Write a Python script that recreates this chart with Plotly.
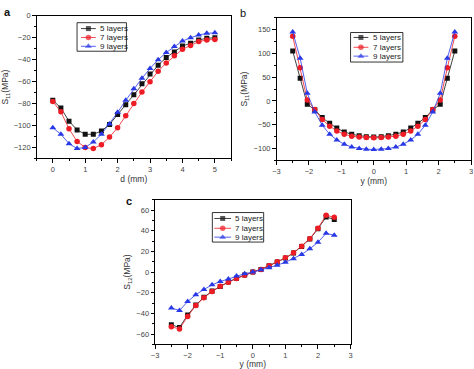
import plotly.graph_objects as go

# ---------------- data ----------------
series_names = ["5 layers", "7 layers", "9 layers"]

a_d = [0, 0.25, 0.5, 0.75, 1.0, 1.25, 1.5, 1.75, 2.0, 2.25, 2.5, 2.75, 3.0, 3.25, 3.5, 3.75, 4.0, 4.25, 4.5, 4.75, 5.0]
a_5 = [-77, -84, -96, -104, -108, -108, -105, -99, -90, -81, -72, -62, -53, -45, -38, -33, -27.5, -25, -22, -20.5, -20]
a_7 = [-78, -87.5, -103, -114.5, -120, -121, -117.5, -110.5, -102, -91, -80, -69.5, -60, -50.5, -43, -36.5, -30.5, -27, -23.5, -22, -21.5]
a_9 = [-102, -108, -116.5, -121, -120, -115, -108, -98.5, -88, -77, -66.5, -57, -48, -40, -33.5, -28, -23, -20, -17.5, -16, -15.5]

b_y = [-2.5, -2.27, -2.05, -1.82, -1.59, -1.36, -1.14, -0.91, -0.68, -0.45, -0.23, 0,
       0.23, 0.45, 0.68, 0.91, 1.14, 1.36, 1.59, 1.82, 2.05, 2.27, 2.5]
b_5 = [105, 48, -7, -18.5, -35, -47, -57, -65, -70, -73, -75, -76, -75, -73, -70, -65, -57, -47, -35, -18.5, -7, 48, 105]
b_7 = [136, 70, 2, -18, -39, -53, -63, -70, -74, -76, -77, -77.5, -77, -76, -74, -70, -63, -53, -39, -18, 2, 70, 136]
b_9 = [145, 90, 16, -23, -51, -70, -82, -91, -97, -100, -101.5, -102, -101.5, -100, -97, -91, -82, -70, -51, -23, 16, 90, 145]

c_y = [-2.5, -2.25, -2.0, -1.75, -1.5, -1.25, -1.0, -0.75, -0.5, -0.25, 0,
       0.25, 0.5, 0.75, 1.0, 1.25, 1.5, 1.75, 2.0, 2.25, 2.5]
c_5 = [-51, -53.6, -41.6, -32, -24.4, -18.4, -14, -9.5, -6, -2.9, 0, 2.5, 6, 9.8, 13.6, 18.4, 24.8, 32, 42, 53.3, 51]
c_7 = [-53, -55, -42.9, -32.4, -24.8, -18.7, -13.7, -9.8, -6.3, -3.2, 0, 2.6, 6.1, 9.9, 13.8, 18.6, 25, 32.3, 42.5, 55, 53]
c_9 = [-34.9, -37.1, -28.6, -21.9, -16.8, -12.4, -9.2, -6.7, -3.8, -1.6, 0, 2.2, 4.1, 6.7, 9.5, 13, 17.1, 22.5, 28.9, 37.5, 35.6]

# ---------------- styles ----------------
W, H = 474, 369
FONT = "Liberation Sans, Arial, sans-serif"
colors = ["#111111", "#ee1c24", "#2838e6"]
symbols = ["square", "circle", "triangle-up"]
msizes = [5, 5.5, 6]

panels = [
    dict(ax="", x=a_d, ys=[a_5, a_7, a_9], box=(33, 230, 12, 157), xr=[-0.5, 5.5], yr=[-130, 0],
         xd=1, yd=20, xt="d (mm)", yt="S<sub>11</sub>(MPa)", label="a", lab_xy=(4, 0), lab_bold=True),
    dict(ax="2", x=b_y, ys=[b_5, b_7, b_9], box=(276, 473, 14, 159), xr=[-3, 3], yr=[-125, 175],
         xd=1, yd=50, xt="y (mm)", yt="S<sub>11</sub>(MPa)", label="b", lab_xy=(242, 1), lab_bold=False),
    dict(ax="3", x=c_y, ys=[c_5, c_7, c_9], box=(153, 351, 199, 346), xr=[-3, 3], yr=[-70, 70],
         xd=1, yd=20, xt="y (mm)", yt="S<sub>12</sub>(MPa)", label="c", lab_xy=(127, 192), lab_bold=True),
]

# legend geometry in px: box (l, r, t, b), row y positions, key line x0, x1, text x
legend_geo = [
    dict(box=(74, 124, 19, 48), rows=(25, 34, 43), kx=(78, 93), tx=95),
    dict(box=(351, 404, 29, 59), rows=(34, 44, 53), kx=(354, 369), tx=372),
    dict(box=(211, 263, 212, 242), rows=(218, 228, 237), kx=(213, 230), tx=232),
]

fig = go.Figure()
layout = dict(width=W, height=H, margin=dict(l=0, r=0, t=0, b=0), autosize=False,
              paper_bgcolor="white", plot_bgcolor="rgba(0,0,0,0)", showlegend=False,
              font=dict(family=FONT, size=8, color="#333"))
annotations, shapes = [], []

for i, p in enumerate(panels):
    l, r, t, b = p["box"]
    xdom = [l / W, r / W]
    ydom = [1 - b / H, 1 - t / H]
    ax = p["ax"]
    for k in range(3):
        fig.add_trace(go.Scatter(
            x=p["x"], y=p["ys"][k], mode="lines+markers", name=series_names[k],
            xaxis="x" + ax, yaxis="y" + ax,
            line=dict(color=colors[k], width=0.8),
            marker=dict(symbol=symbols[k], size=msizes[k], color=colors[k], line=dict(width=0)),
        ))
    common = dict(showline=True, mirror=True, linecolor="black", linewidth=1, showgrid=False,
                  zeroline=False, ticks="outside", ticklen=3.5, tickwidth=0.8, tickcolor="black",
                  tickfont=dict(family=FONT, size=7.5, color="#444"))
    layout["xaxis" + ax] = dict(common, domain=xdom, range=p["xr"], dtick=p["xd"], tick0=0,
                                anchor="y" + ax,
                                minor=dict(ticks="outside", ticklen=2, tickwidth=0.8, tickcolor="black", dtick=p["xd"] / 2),
                                title=dict(text=p["xt"], font=dict(family=FONT, size=8.5, color="#333"), standoff=3))
    layout["yaxis" + ax] = dict(common, domain=ydom, range=p["yr"], dtick=p["yd"], tick0=0,
                                anchor="x" + ax,
                                minor=dict(ticks="outside", ticklen=2, tickwidth=0.8, tickcolor="black", dtick=p["yd"] / 2),
                                title=dict(text=p["yt"], font=dict(family=FONT, size=8.5, color="#333"), standoff=4))
    # inside ticks on top / right (overlay axes)
    n = str(i + 4)
    inner = dict(showline=False, showgrid=False, zeroline=False, ticks="inside", ticklen=3.5, tickwidth=0.8,
                 tickcolor="black", showticklabels=False, tick0=0)
    layout["xaxis" + n] = dict(inner, range=p["xr"], dtick=p["xd"], overlaying="x" + ax,
                               anchor="y" + ax, side="top",
                               minor=dict(ticks="inside", ticklen=2, tickwidth=0.8, tickcolor="black", dtick=p["xd"] / 2))
    layout["yaxis" + n] = dict(inner, range=p["yr"], dtick=p["yd"], overlaying="y" + ax,
                               anchor="x" + ax, side="right",
                               minor=dict(ticks="inside", ticklen=2, tickwidth=0.8, tickcolor="black", dtick=p["yd"] / 2))
    # panel label
    lx, ly = p["lab_xy"]
    annotations.append(dict(text=("<b>%s</b>" % p["label"]) if p["lab_bold"] else p["label"],
                            xref="x7", yref="y7", x=lx, y=ly, xanchor="center", yanchor="top",
                            showarrow=False, font=dict(family=FONT, size=11, color="#111")))

# pixel-coordinate layer for the legends and panel labels
layout["xaxis7"] = dict(domain=[0, 1], range=[0, W], visible=False, anchor="y7", fixedrange=True)
layout["yaxis7"] = dict(domain=[0, 1], range=[H, 0], visible=False, anchor="x7", fixedrange=True)

for g in legend_geo:
    l, r, t, b = g["box"]
    shapes.append(dict(type="rect", xref="x7", yref="y7", x0=l, x1=r, y0=t, y1=b,
                       line=dict(color="black", width=0.8), fillcolor="rgba(0,0,0,0)", layer="above"))
for g in legend_geo:
    x0, x1 = g["kx"]
    for k in range(3):
        yy = g["rows"][k]
        fig.add_trace(go.Scatter(
            x=[x0, (x0 + x1) / 2, x1], y=[yy, yy, yy], xaxis="x7", yaxis="y7", mode="lines+markers",
            line=dict(color=colors[k], width=0.8), showlegend=False, hoverinfo="skip",
            marker=dict(symbol=symbols[k], size=[0, msizes[k], 0], color=colors[k], line=dict(width=0)),
        ))
        annotations.append(dict(text=series_names[k], xref="x7", yref="y7", x=g["tx"], y=yy,
                                xanchor="left", yanchor="middle", showarrow=False,
                                font=dict(family=FONT, size=8, color="#222")))

layout["annotations"] = annotations
layout["shapes"] = shapes
fig.update_layout(**layout)
fig.write_html("out.html", config={"displayModeBar": False},
               post_script="document.body.style.margin='0px';document.body.style.padding='0px';")
